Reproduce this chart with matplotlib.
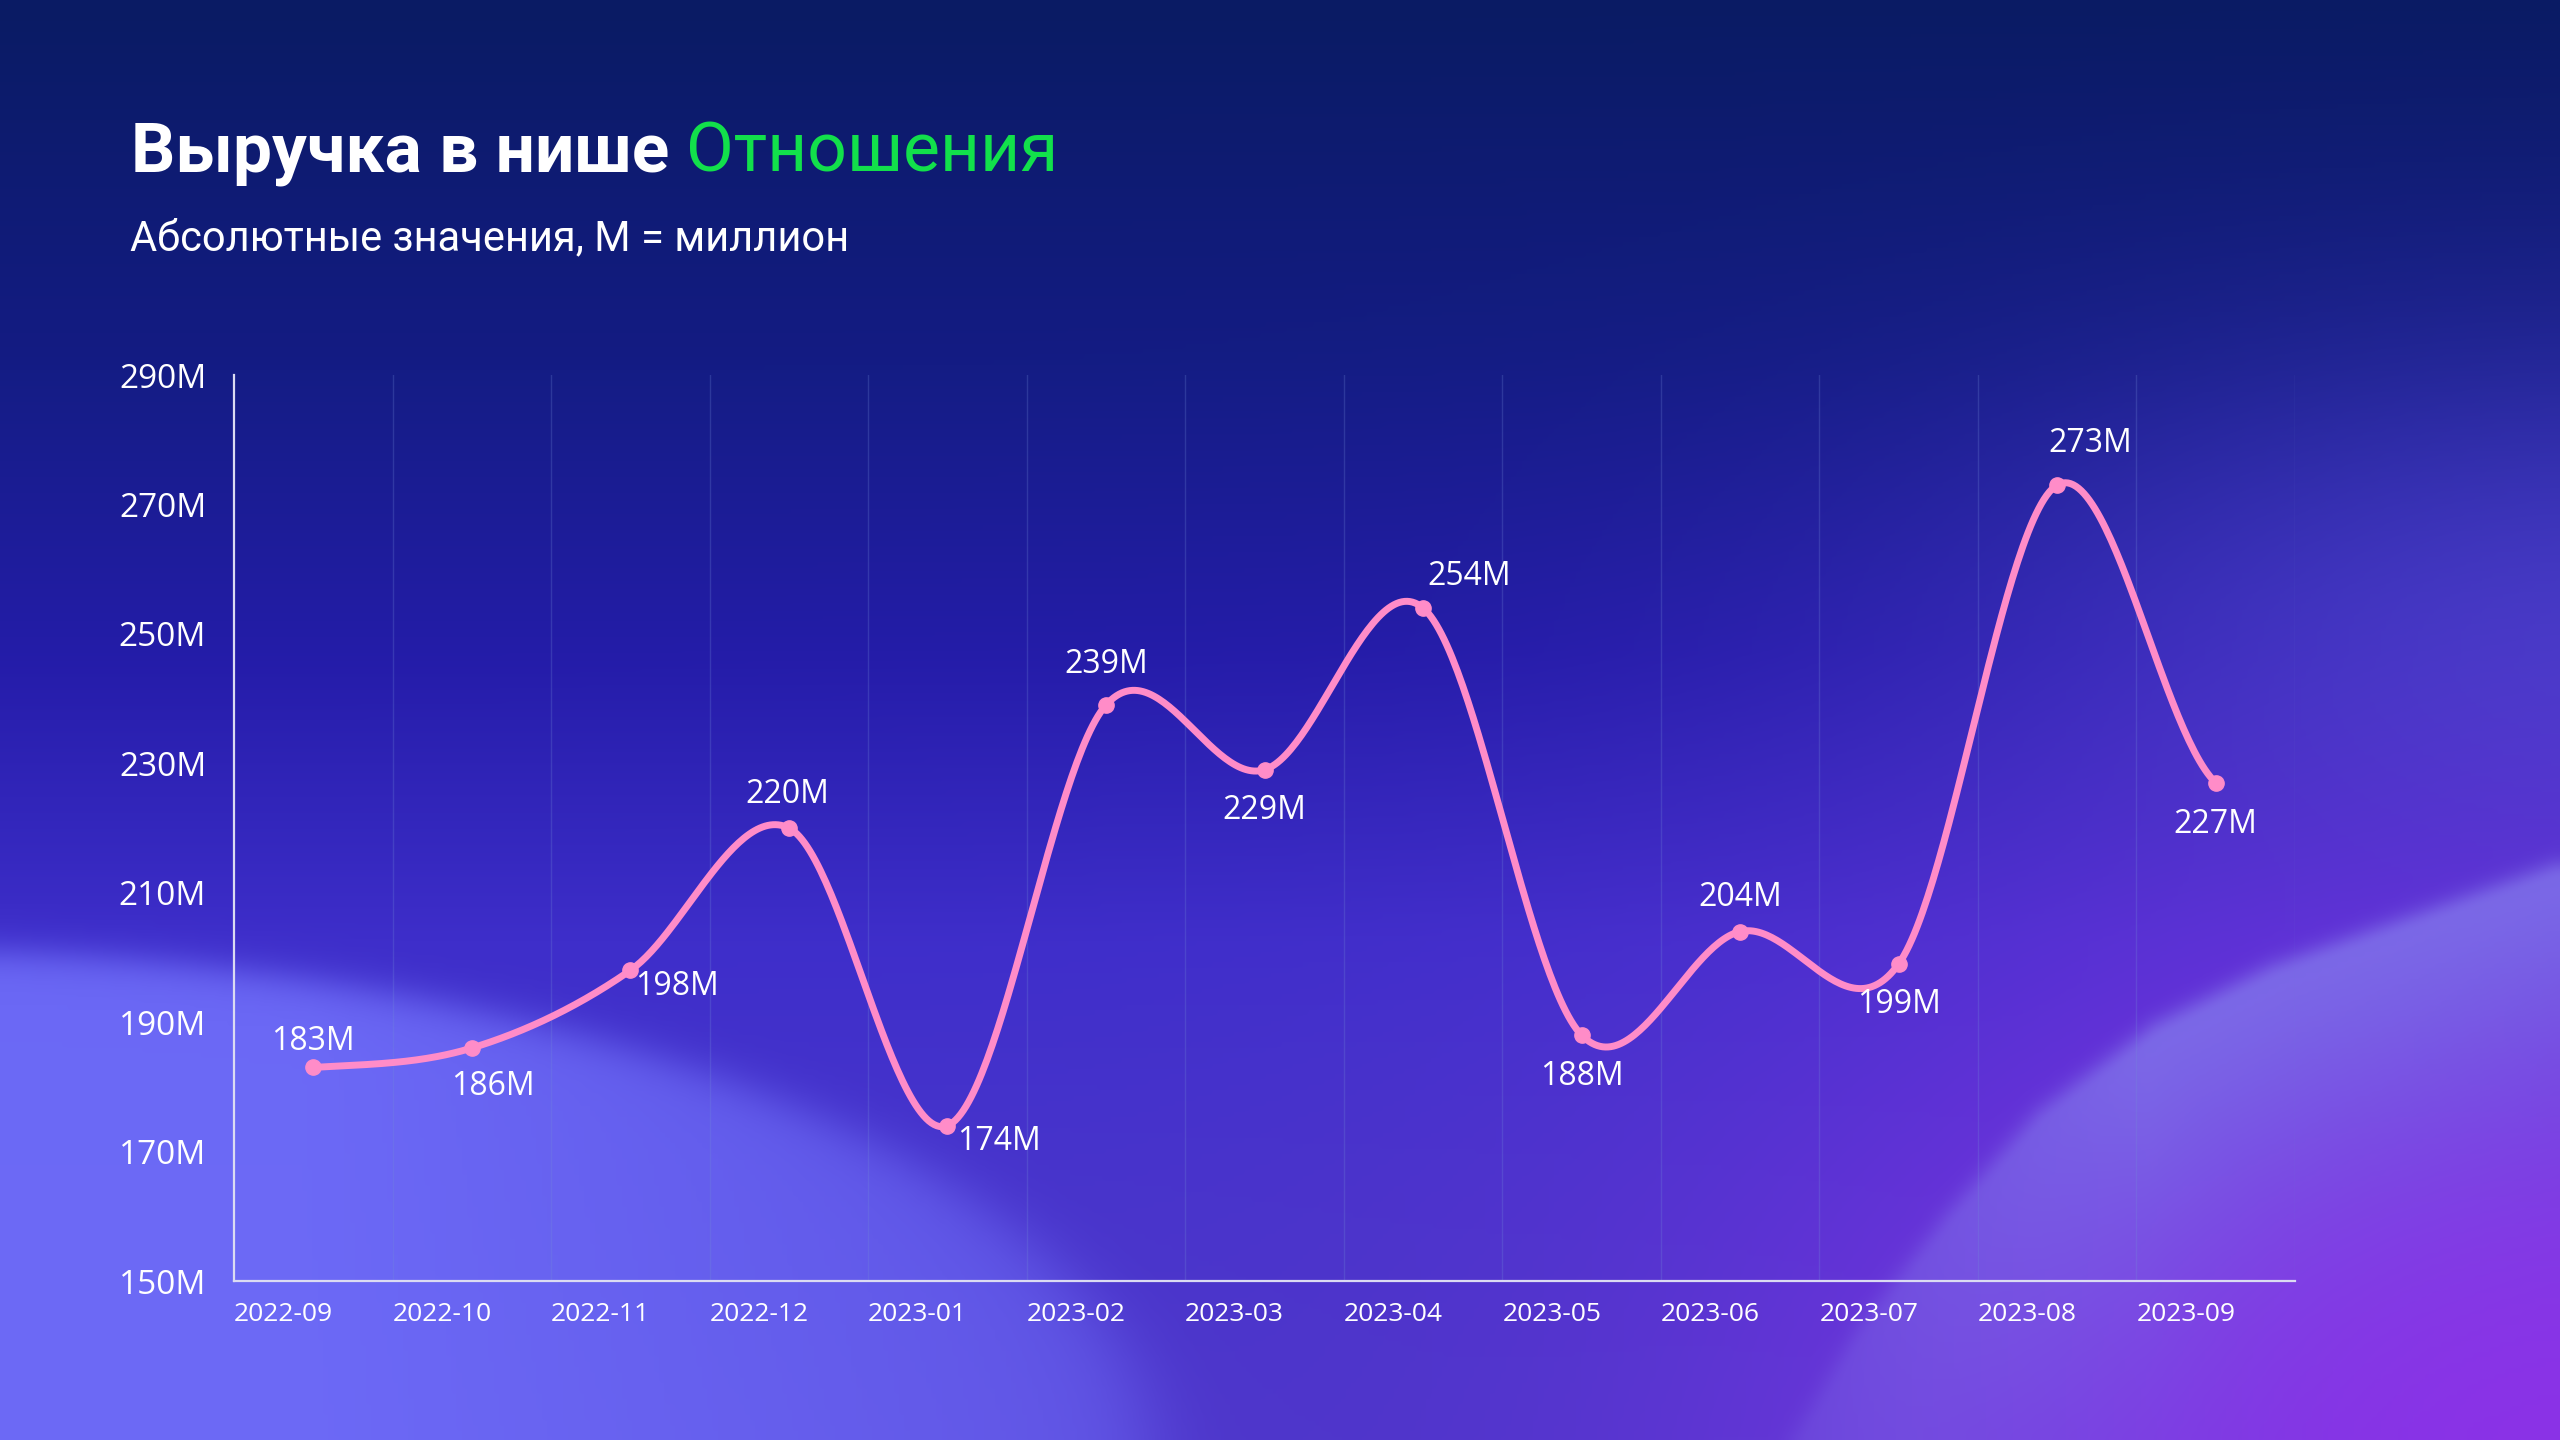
import numpy as np
import matplotlib
matplotlib.use("Agg")
import matplotlib.pyplot as plt

# ---------------- data ----------------
months = ["2022-09", "2022-10", "2022-11", "2022-12", "2023-01", "2023-02", "2023-03",
          "2023-04", "2023-05", "2023-06", "2023-07", "2023-08", "2023-09"]
revenue = [183, 186, 198, 220, 174, 239, 229, 254, 188, 204, 199, 273, 227]
y_ticks = [150, 170, 190, 210, 230, 250, 270, 290]
title_main = "Выручка в нише "
title_accent = "Отношения"
subtitle = "Абсолютные значения, М = миллион"

# label offsets (pixels) relative to each point (style only)
label_offsets = [(0, 26), (21, -38), (47, -16), (-2, 33), (52, -16), (0, 41), (0, -41),
                 (46, 31), (0, -41), (0, 34), (0, -41), (33, 42), (0, -42)]

W_PX, H_PX, DPI = 2560, 1440, 100
plt.rcParams['font.family'] = ['Open Sans', 'DejaVu Sans']

fig = plt.figure(figsize=(W_PX / DPI, H_PX / DPI), dpi=DPI)

# ---------------- background ----------------
H, W = 270, 480
v, u = np.mgrid[0:H, 0:W].astype(float)
u /= (W - 1)
v /= (H - 1)

stops_v = [0.0, 0.25, 0.45, 0.65, 1.0]
stops_c = np.array([(10, 27, 100), (20, 28, 132), (36, 28, 168), (62, 46, 202), (80, 60, 208)], float)
img = np.zeros((H, W, 3))
for k in range(3):
    img[..., k] = np.interp(v, stops_v, stops_c[:, k])

def blend(img, color, alpha):
    a = np.clip(alpha, 0, 1)[..., None]
    return img * (1 - a) + np.array(color, float) * a

def sig(x, s):
    return 1 / (1 + np.exp(-np.clip(x / s, -50, 50)))

def wave(pts):
    pts = np.array(pts, float)
    t = np.linspace(0, 1, 300)
    cu = np.interp(t, np.linspace(0, 1, len(pts)), pts[:, 0])
    cv = np.interp(t, np.linspace(0, 1, len(pts)), pts[:, 1])
    d = np.full(u.shape, 1e9)
    for a, b in zip(cu, cv):
        d = np.minimum(d, ((u - a) * 1.78) ** 2 + (v - b) ** 2)
    d = np.sqrt(d)
    order = np.argsort(cu)
    vb = np.interp(u, cu[order], cv[order], left=2.0, right=pts[-1, 1])
    return d, v > vb

# upper-right soft glow
img = blend(img, (78, 76, 210), 0.65 * np.exp(-(((u - 1.02) / 0.24) ** 2 + ((v - 0.45) / 0.2) ** 2)))
# bottom middle darker
img = blend(img, (70, 50, 195), 0.55 * np.exp(-(((u - 0.55) / 0.18) ** 2 + ((v - 1.0) / 0.25) ** 2)))

# left lighter wave
e = 1 - ((u + 0.05) / 0.5) ** 2 - ((v - 1.02) / 0.36) ** 2
img = blend(img, (110, 108, 248), 0.95 * sig(e, 0.04) * np.clip(1.15 - u * 1.25, 0, 1))

# bottom-right purple
img = blend(img, (142, 48, 232), 0.95 * np.exp(-(((u - 1.0) / 0.3) ** 2 + ((v - 1.0) / 0.4) ** 2)))

# right lavender wave (soft edge, fading with depth)
pts_r = [(0.70, 1.02), (0.73, 0.93), (0.765, 0.85), (0.80, 0.78), (0.845, 0.72),
         (0.89, 0.68), (0.945, 0.645), (1.0, 0.61)]
d, inside = wave(pts_r)
edge = np.where(inside, 1.0, np.exp(-(d / 0.012) ** 2))
depth = np.where(inside, np.exp(-(d / 0.16) ** 1.5), 1.0)
fade_left = np.clip((u - 0.64) / 0.2, 0, 1)
img = blend(img, (128, 114, 234), 0.85 * edge * depth * fade_left)

bg = fig.add_axes([0, 0, 1, 1], zorder=-10)
bg.imshow(img.astype(np.uint8), aspect='auto', interpolation='bicubic', extent=[0, 1, 0, 1])
bg.axis('off')

# ---------------- chart ----------------
ax_l, ax_r, ax_t, ax_b = 234, 2295, 375, 1281
ax = fig.add_axes([ax_l / W_PX, 1 - ax_b / H_PX, (ax_r - ax_l) / W_PX, (ax_b - ax_t) / H_PX])
ax.patch.set_alpha(0)

n = len(revenue)
x = np.arange(n)
yv = np.array(revenue, float)

# Catmull-Rom smooth curve through the data points
xs, ys = [], []
for i in range(n - 1):
    p0 = yv[max(i - 1, 0)]
    p1 = yv[i]
    p2 = yv[i + 1]
    p3 = yv[min(i + 2, n - 1)]
    t = np.linspace(0, 1, 60, endpoint=(i == n - 2))
    yy = 0.5 * (2 * p1 + (-p0 + p2) * t + (2 * p0 - 5 * p1 + 4 * p2 - p3) * t ** 2
                + (-p0 + 3 * p1 - 3 * p2 + p3) * t ** 3)
    xs.append(x[i] + t)
    ys.append(yy)
xs = np.concatenate(xs)
ys = np.concatenate(ys)

pink = "#FF8CC8"
ax.plot(xs, ys, color=pink, lw=5, solid_capstyle='round', zorder=3)
ax.plot(x, yv, 'o', color=pink, ms=11, zorder=4)

for xi, yi, (dx, dy) in zip(x, revenue, label_offsets):
    ax.annotate(f"{yi}M", (xi, yi), xytext=(dx, dy), textcoords='offset pixels',
                ha='center', va='center', color='white', fontsize=23, zorder=5)

ax.set_xlim(-0.5, n - 0.5)
ax.set_ylim(y_ticks[0], y_ticks[-1])
ax.set_yticks(y_ticks)
ax.set_yticklabels([f"{t}M" for t in y_ticks], color='white', fontsize=24)
ax.set_xticks(x - 0.5)
ax.set_xticklabels(months, color='white', fontsize=19, ha='left')
ax.tick_params(axis='both', length=0)
ax.tick_params(axis='y', pad=20)
ax.tick_params(axis='x', pad=15)

for b in np.arange(0.5, n, 1.0):
    ax.axvline(b, color=(0.45, 0.55, 0.85), alpha=0.25, lw=1, zorder=1)

for s in ['top', 'right']:
    ax.spines[s].set_visible(False)
for s in ['left', 'bottom']:
    ax.spines[s].set_color((0.86, 0.86, 0.95))
    ax.spines[s].set_linewidth(1.6)

# ---------------- titles ----------------
title_font = ['Roboto', 'DejaVu Sans']
t1 = fig.text(131 / W_PX, 1 - 171 / H_PX, title_main, color='white', fontsize=50,
              fontweight='bold', va='baseline', ha='left', family=title_font)
fig.canvas.draw()
bb = t1.get_window_extent(renderer=fig.canvas.get_renderer())
fig.text(bb.x1 / W_PX, 1 - 171 / H_PX, title_accent, color='#12E04B', fontsize=50,
         va='baseline', ha='left', family=title_font)
fig.text(130 / W_PX, 1 - 250 / H_PX, subtitle, color='white', fontsize=30,
         va='baseline', ha='left', family=title_font)

fig.savefig("out.png", dpi=DPI)
